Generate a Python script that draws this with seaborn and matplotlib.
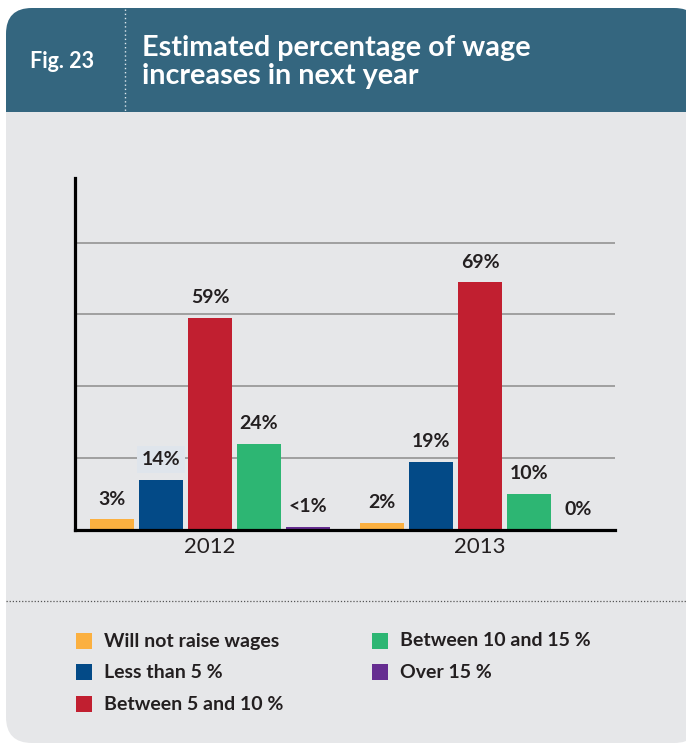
import matplotlib
matplotlib.use("Agg")
import matplotlib.pyplot as plt
from matplotlib.patches import FancyBboxPatch, Rectangle
from matplotlib.lines import Line2D
import seaborn as sns
import pandas as pd

# ---- data ----
years = ["2012", "2013"]
categories = [
    "Will not raise wages",
    "Less than 5 %",
    "Between 5 and 10 %",
    "Between 10 and 15 %",
    "Over 15 %",
]
values_2012 = [3, 14, 59, 24, 0.9]
values_2013 = [2, 19, 69, 10, 0]
labels_2012 = ["3%", "14%", "59%", "24%", "<1%"]
labels_2013 = ["2%", "19%", "69%", "10%", "0%"]
colors = ["#fbb040", "#034a87", "#c11f30", "#2db673", "#662d91"]

df = pd.DataFrame({
    "year": [y for y in years for _ in categories],
    "category": categories * len(years),
    "share": values_2012 + values_2013,
})

sns.set_theme(style="white")
plt.rcParams["font.family"] = ["Lato", "DejaVu Sans"]

W, H = 686, 744
fig = plt.figure(figsize=(W / 100, H / 100), dpi=100)
fig.patch.set_facecolor("white")

HEADER = "#34667f"
PANEL = "#e6e7e9"
TEXT = "#231f20"
inch = fig.dpi_scale_trans


def box(x0, y0, x1, y1, color, rounded=True, z=0):
    """Rectangle given in pixel coordinates measured from the top-left."""
    if rounded:
        p = FancyBboxPatch((x0 / 100, (H - y1) / 100), (x1 - x0) / 100, (y1 - y0) / 100,
                           boxstyle="round,pad=0,rounding_size=0.26",
                           transform=inch, fc=color, ec="none", zorder=z)
    else:
        p = Rectangle((x0 / 100, (H - y1) / 100), (x1 - x0) / 100, (y1 - y0) / 100,
                      transform=inch, fc=color, ec="none", zorder=z)
    fig.add_artist(p)


# card background and header band
box(6, 8, 700, 743, PANEL)
box(6, 8, 700, 170, HEADER)
box(6, 112, 700, 180, PANEL, rounded=False)

# dotted separators
fig.add_artist(Line2D([125 / 100, 125 / 100], [(H - 9) / 100, (H - 112) / 100],
                      transform=inch, color="#dfe8ee", lw=1.0, ls=(0, (1, 2))))
fig.add_artist(Line2D([6 / 100, W / 100], [(H - 601) / 100, (H - 601) / 100],
                      transform=inch, color="#555555", lw=0.9, ls=(0, (1, 1.5))))

# header text
fig.text(30 / W, 1 - 68 / H, "Fig. 23", color="white", fontsize=15.5,
         fontweight="bold", va="baseline", ha="left")
fig.text(142 / W, 1 - 56 / H, "Estimated percentage of wage",
         color="white", fontsize=20.7, fontweight="bold", va="baseline", ha="left")
fig.text(142 / W, 1 - 84 / H, "increases in next year",
         color="white", fontsize=20.7, fontweight="bold", va="baseline", ha="left")

# ---- chart ----
ax = fig.add_axes([75 / W, (H - 530) / H, 540 / W, 352 / H])
ax.set_facecolor("none")

sns.barplot(data=df, x="year", y="share", hue="category", hue_order=categories,
            order=years, palette=colors, saturation=1, width=0.907, gap=0.1,
            linewidth=0, legend=False, ax=ax, zorder=3)

ax.set_xlim(-0.5, 1.5)
ax.set_ylim(0, 98)
ax.set_yticks([0, 20, 40, 60, 80])
ax.set_yticklabels([])
ax.grid(axis="y", color="#9a9a9a", lw=1.3, zorder=1)
ax.grid(axis="x", visible=False)
ax.set_axisbelow(True)
for s in ["top", "right"]:
    ax.spines[s].set_visible(False)
for s in ["left", "bottom"]:
    ax.spines[s].set_color("black")
    ax.spines[s].set_linewidth(2.3)
    ax.spines[s].set_zorder(4)
ax.tick_params(axis="both", length=0)
ax.tick_params(axis="x", pad=5, labelsize=16, labelcolor=TEXT)
ax.set_xlabel("")
ax.set_ylabel("")

all_labels = [labels_2012, labels_2013]
for ci, cont in enumerate(ax.containers):
    for yi, bar in enumerate(cont):
        txt = all_labels[yi][ci]
        x = bar.get_x() + bar.get_width() / 2
        top = bar.get_height()
        kw = {}
        if txt == "14%":
            kw["bbox"] = dict(boxstyle="square,pad=0.25", fc="#dfe5ec", ec="none")
        ax.annotate(txt, (x, top), xytext=(0, 14.5), textcoords="offset points",
                    ha="center", va="center", fontsize=14, fontweight="bold",
                    color=TEXT, zorder=5, **kw)

# ---- legend ----
legend_pos = [(76, 641), (76, 672), (76, 704), (372, 641), (372, 672)]
for (lx, ly), name, col in zip(legend_pos, categories, colors):
    box(lx, ly - 8, lx + 16, ly + 8, col, rounded=False, z=3)
    fig.text((lx + 28) / W, 1 - ly / H, name, color=TEXT, fontsize=14,
             fontweight="bold", va="center", ha="left")

fig.savefig("out.png", dpi=100)
